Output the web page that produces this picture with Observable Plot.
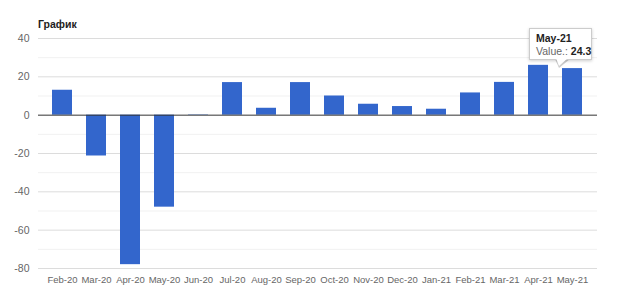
<!DOCTYPE html>
<html>
<head>
<meta charset="utf-8">
<script src="https://cdn.jsdelivr.net/npm/d3@7"></script>
<script src="https://cdn.jsdelivr.net/npm/@observablehq/plot@0.6"></script>
<style>
  html, body { margin: 0; padding: 0; background: #fff; }
  #wrap { position: relative; width: 620px; height: 296px; font-family: "Liberation Sans", Arial, sans-serif; }
  #title { height: 30px; position: relative; }
  #title span { position: absolute; left: 38px; top: 18px; font-size: 10.5px; font-weight: bold; color: #222; }
  #tip { position: absolute; left: 529px; top: 28px; width: 61px; height: 30px; background: #fff;
         border: 1px solid #ccc; box-shadow: 0 1px 3px rgba(0,0,0,0.2); font-size: 10.5px; color: #222; }
  #tip .l1 { position: absolute; left: 6px; top: 3px; font-weight: bold; }
  #tip .l2 { position: absolute; left: 6px; top: 16px; color: #666; white-space: nowrap; }
  #tip .l2 b { color: #222; }
  #tipArrow { position: absolute; left: 556px; top: 58px; width: 0; height: 0;
              border-left: 3px solid transparent; border-right: 9px solid transparent; border-top: 8px solid #fff; }
  #tipArrowB { position: absolute; left: 555px; top: 59px; width: 0; height: 0;
              border-left: 4px solid transparent; border-right: 11px solid transparent; border-top: 9px solid #ccc; }
</style>
</head>
<body>
<div id="wrap">
  <div id="title"><span>График</span></div>
  <div id="chart"></div>
  <div id="tipArrowB"></div>
  <div id="tip"><div class="l1">May-21</div><div class="l2">Value.: <b>24.3</b></div></div>
  <div id="tipArrow"></div>
</div>
<script>
const months = ["Feb-20","Mar-20","Apr-20","May-20","Jun-20","Jul-20","Aug-20","Sep-20","Oct-20","Nov-20","Dec-20","Jan-21","Feb-21","Mar-21","Apr-21","May-21"];
const values = [13, -21.3, -78, -48, 0.2, 17, 3.6, 17, 10, 5.7, 4.5, 3.1, 11.6, 17.1, 26, 24.3];
const majorTicks = [-80, -60, -40, -20, 20, 40];
const minorTicks = [-70, -50, -30, -10, 10, 30];
const yLabels = [-80, -60, -40, -20, 0, 20, 40];

const data = months.map((m, i) => ({month: m, value: values[i]}));

const chart = Plot.plot({
  width: 620,
  height: 266,
  marginTop: 8,
  marginBottom: 28,
  marginLeft: 38,
  marginRight: 23,
  style: { fontFamily: "'Liberation Sans', Arial, sans-serif", fontSize: "9.5px", background: "#fff", color: "#666" },
  x: { domain: months, padding: 0.4, label: null },
  y: { domain: [-80, 40], label: null },
  marks: [
    Plot.ruleY(minorTicks, { stroke: "#f1f1f1", strokeWidth: 1 }),
    Plot.ruleY(majorTicks, { stroke: "#dcdcdc", strokeWidth: 1 }),
    Plot.barY(data, { x: "month", y: "value", fill: "#3366cc" }),
    Plot.ruleY([0], { stroke: "#333", strokeWidth: 1 }),
    Plot.axisY({ ticks: yLabels, tickSize: 0, tickPadding: 9, label: null, tickFormat: d => String(d), fill: "#666", fontSize: 10.5 }),
    Plot.axisX({ tickSize: 0, tickPadding: 8, label: null, fill: "#666", fontSize: 9.5 })
  ]
});
document.getElementById("chart").appendChild(chart);
</script>
</body>
</html>
